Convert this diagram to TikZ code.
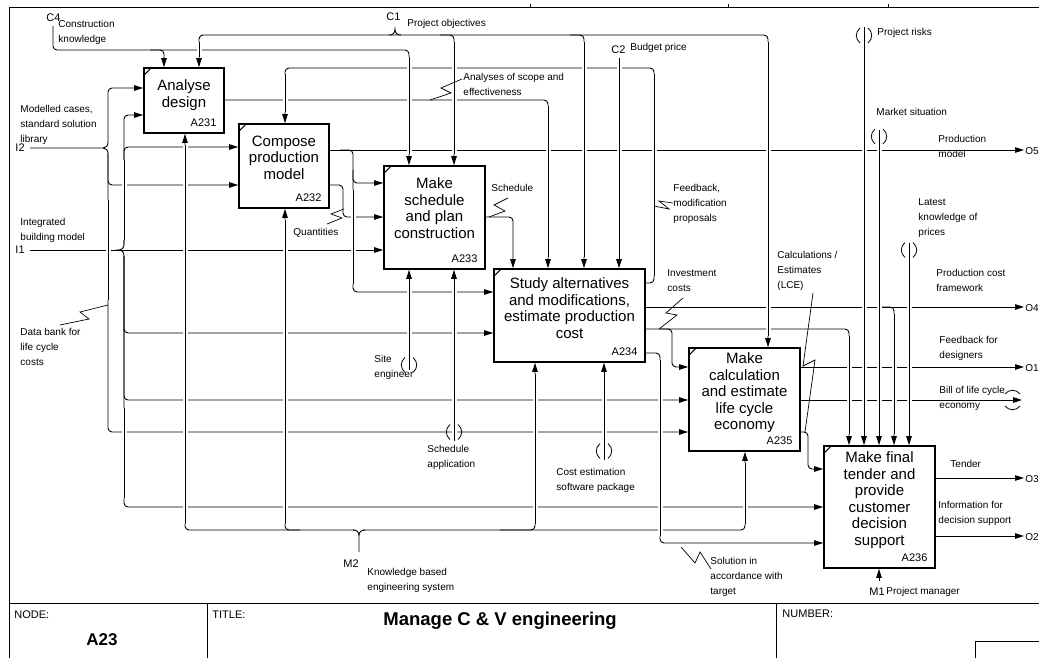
\documentclass[tikz,border=0pt]{standalone}
\usepackage{fontspec}
\setmainfont{Liberation Sans}
\usetikzlibrary{arrows.meta,positioning}
\newcommand\vtunnel[2]{\draw[line width=0.8pt] (#1-4,#2-7.5) .. controls (#1-9,#2-3) and (#1-9,#2+3) .. (#1-4,#2+7.5) (#1+4,#2-7.5) .. controls (#1+9,#2-3) and (#1+9,#2+3) .. (#1+4,#2+7.5);}
\begin{document}
\begin{tikzpicture}[x=1pt, y=-1pt, line width=0.9pt,
  arr/.style={-{Triangle[length=9pt,width=5.5pt]}},
  rc/.style={rounded corners=4pt},
  actbox/.style={draw, line width=1.7pt, inner sep=0pt},
  btext/.style={font=\fontsize{15}{16.5}\selectfont, align=center, inner sep=0pt},
  num/.style={font=\fontsize{11}{13}\selectfont, inner sep=0pt, anchor=base east},
  lbl/.style={font=\fontsize{10}{15}\selectfont, align=left, inner sep=0pt, anchor=north west},
  code/.style={font=\fontsize{11}{13}\selectfont, inner sep=0pt, anchor=base west},
  gapline/.style={preaction={draw, white, line width=5pt}},
  sq/.style={line width=0.7pt}]
\useasboundingbox (0,0) rectangle (1039,658);
\draw[line width=1pt] (9,8) rectangle (1060,680);
\draw[line width=1pt] (9,603) -- (1060,603) (207,603) -- (207,680) (776,603) -- (776,680) (975,641) rectangle (1060,680);
\foreach \x in {530,728,888} \draw (\x,4) -- (\x,8);

\node[actbox, minimum width=80pt, minimum height=65pt] (a231) at (184,100.5) {};
\node[actbox, minimum width=90pt, minimum height=84pt] (a232) at (284,166) {};
\node[actbox, minimum width=101pt, minimum height=103pt] (a233) at (434.5,217.5) {};
\node[actbox, minimum width=151pt, minimum height=93pt] (a234) at (569.5,315.5) {};
\node[actbox, minimum width=111pt, minimum height=103pt] (a235) at (744.5,399.5) {};
\node[actbox, minimum width=111pt, minimum height=122pt] (a236) at (879.5,507) {};
\foreach \b in {a231,a232,a233,a234,a235,a236}
  \draw[line width=1.2pt] ([xshift=0.8pt,yshift=-8pt]\b.north west) -- ([xshift=8pt,yshift=-0.8pt]\b.north west);

\node[btext, below=12.4pt of a231.north] (t231) {Analyse\\design};
\node[btext, below=12.4pt of a232.north] (t232) {Compose\\production\\model};
\node[btext, below=12.4pt of a233.north] (t233) {Make\\schedule\\and plan\\construction};
\node[btext, below=9.4pt of a234.north] (t234) {Study alternatives\\and modifications,\\estimate production\\cost};
\node[btext, below=5.4pt of a235.north] (t235) {Make\\calculation\\and estimate\\life cycle\\economy};
\node[btext, below=6.4pt of a236.north] (t236) {Make final\\tender and\\provide\\customer\\decision\\support};
\node[num] (n231) at ([xshift=-8pt,yshift=7pt]a231.south east) {A231};
\node[num] (n232) at ([xshift=-8pt,yshift=7pt]a232.south east) {A232};
\node[num] (n233) at ([xshift=-8pt,yshift=7pt]a233.south east) {A233};
\node[num] (n234) at ([xshift=-8pt,yshift=7pt]a234.south east) {A234};
\node[num] (n235) at ([xshift=-8pt,yshift=7pt]a235.south east) {A235};
\node[num] (n236) at ([xshift=-8pt,yshift=7pt]a236.south east) {A236};

\draw[arr, rc] (53,26) |- (164,50) -- (a231.north -| 164,0);
\draw[arr, rc] (150,50) -| (a233.north -| 409,0);
\draw[arr, rc] (395,35) -| (a231.north -| 199,0);
\draw[arr, rc] (395,35) -| (a235.north -| 768,0);
\draw[arr, rc] (440,35) -| (a233.north -| 454,0);
\draw[arr, rc] (570,35) -| (a234.north -| 584,0);
\draw (389,35) .. controls (393,35) and (395,33) .. (395,29) .. controls (395,33) and (397,35) .. (401,35);
\draw[arr] (619,58) -- (a234.north -| 619,0);
\draw[arr, rc] (a234.east |- 0,283) -| (654,68) -| (a232.north -| 285,0);
\draw[arr, rc] (a231.east |- 0,100) -| (a234.north -| 548,0);

\draw[arr] (a232.east |- 0,150) -- (1024,150);
\draw[arr, rc] (340,150) -| (353,170) |- (a233.west |- 0,183);
\draw[arr, rc] (353,170) |- (a234.west |- 0,292);
\draw[arr, rc] (a232.east |- 0,185) -| (343,200) |- (a233.west |- 0,217);
\draw[arr, rc] (a233.east |- 0,217) -| (a234.north -| 513,0);

\draw[arr] (a234.east |- 0,307) -- (1024,307);
\draw[arr, rc] (880,307) -| (a236.north -| 894,0);
\draw[arr, rc] (a234.east |- 0,329) -| (a236.north -| 849,0);
\draw[arr, rc] (660,329) -| (672,345) |- (a235.west |- 0,367);
\draw[arr, rc] (a234.east |- 0,353) -| (660,450) |- (a236.west |- 0,543);
\draw[arr] (a235.east |- 0,367) -- (1024,367);
\draw[arr] (a235.east |- 0,400) -- (1022,400);
\draw[arr, rc] (a235.east |- 0,432) -| (808,450) |- (a236.west |- 0,469);
\draw[arr] (a236.east |- 0,478) -- (1024,478);
\draw[arr] (a236.east |- 0,536) -- (1024,536);

\draw (30,148) -- (103,148) .. controls (106,148) and (108,146) .. (108,142) (103,148) .. controls (106,148) and (108,150) .. (108,154);
\draw[arr, rc] (108,142) |- (a231.west |- 0,88);
\draw[arr, rc] (108,154) |- (a232.west |- 0,185);
\draw[arr, rc] (108,154) |- (a235.west |- 0,432);
\draw[arr] (30,250) -- (a233.west |- 0,250);
\draw (124,244) .. controls (124,248) and (122,250) .. (118,250) .. controls (122,250) and (124,252) .. (124,256);
\draw[arr, rc] (124,244) |- (a231.west |- 0,115);
\draw[arr, rc] (124,244) |- (a232.west |- 0,147);
\draw[arr, rc] (124,256) |- (a234.west |- 0,333);
\draw[arr, rc] (124,256) |- (a235.west |- 0,400);
\draw[arr, rc] (124,256) |- (a236.west |- 0,507);

\draw[arr, rc] (355,530) -| (a231.south -| 185,0);
\draw[arr, rc] (300,530) -| (a232.south -| 285,0);
\draw[arr, rc] (500,530) -| (a234.south -| 535,0);
\draw[arr, rc] (363,530) -| (a235.south -| 745,0);
\draw (359,552) -- (359,536) .. controls (359,532) and (357,530) .. (353,530) (359,536) .. controls (359,532) and (361,530) .. (365,530);
\draw[arr] (409,370) -- (a233.south -| 409,0);
\draw[arr] (454,441) -- (a233.south -| 454,0);
\draw[arr] (604,460) -- (a234.south -| 604,0);
\draw[arr] (879,581) -- (a236.south -| 879,0);
\draw[arr] (864,27) -- (a236.north -| 864,0);
\draw[arr] (879,130) -- (a236.north -| 879,0);
\draw[arr] (909,243) -- (a236.north -| 909,0);

\foreach \x/\ya/\yb in {108/200/300, 124/160/240, 124/408/498, 185/145/524, 199/42/57, 285/74/112, 285/220/524, 353/190/284, 409/57/154, 409/281/358, 454/42/154, 454/281/440, 548/106/257, 584/42/257, 619/62/257, 654/74/276, 535/374/524, 604/374/443, 660/360/536, 745/463/524, 768/42/336, 849/336/434, 864/44/434, 879/145/434, 894/314/434, 909/259/434}
  \draw[gapline] (\x,\ya) -- (\x,\yb);

\vtunnel{864}{35.5}
\vtunnel{879}{136.5}
\vtunnel{909}{250}
\vtunnel{409}{365}
\vtunnel{454}{432}
\vtunnel{604}{451}
\draw[line width=0.8pt] (1005,394) .. controls (1009,389) and (1016,389) .. (1020,394) (1005,406) .. controls (1009,411) and (1016,411) .. (1020,406);

\draw[sq] (430,100) -- (451,93) -- (441,88) -- (462,79);
\draw[sq] (489,217) -- (505,211) -- (494,205) -- (508,198);
\draw[sq] (327,224) -- (342,218) -- (331,214) -- (344,209);
\draw[sq] (654,206) -- (669,209) -- (659,201) -- (673,203);
\draw[sq] (659,329) -- (677,315) -- (666,313) -- (683,298);
\draw[sq] (60,325) -- (89,319) -- (80,312) -- (108,305);
\draw[sq] (813,293) -- (803,366) -- (815,360) -- (805,432);
\draw[sq] (681,547) -- (695,563) -- (700,552) -- (711,569);

\node[code] (c4) at (46,22) {C4};
\node[code] (c1) at (386,21) {C1};
\node[code] (c2) at (611,54) {C2};
\node[code] (i2) at (15,152) {I2};
\node[code] (i1) at (15,253) {I1};
\node[code] (m2) at (343,567) {M2};
\node[code] (m1) at (869,595) {M1};
\node[code, font=\fontsize{10}{12}\selectfont] (o5) at (1025,154) {O5};
\node[code, font=\fontsize{10}{12}\selectfont] (o4) at (1025,311) {O4};
\node[code, font=\fontsize{10}{12}\selectfont] (o1) at (1025,371) {O1};
\node[code, font=\fontsize{10}{12}\selectfont] (o3) at (1025,482) {O3};
\node[code, font=\fontsize{10}{12}\selectfont] (o2) at (1025,540) {O2};

\node[lbl] (lconstr) at (58,20.2) {Construction\\knowledge};
\node[lbl] (lobj) at (407,19.2) {Project objectives};
\node[lbl] (lbudget) at (630,43.2) {Budget price};
\node[lbl] (lscope) at (463,73.2) {Analyses of scope and\\effectiveness};
\node[lbl] (lsched) at (491,184.2) {Schedule};
\node[lbl] (lrisks) at (877,28.2) {Project risks};
\node[lbl] (lmarket) at (876,108.2) {Market situation};
\node[lbl] (lprodmod) at (938,135.2) {Production\\model};
\node[lbl] (lfeedmod) at (673,184.2) {Feedback,\\modification\\proposals};
\node[lbl] (lprices) at (918,198.2) {Latest\\knowledge of\\prices};
\node[lbl] (lcases) at (20,105.2) {Modelled cases,\\standard solution\\library};
\node[lbl] (lbim) at (20,218.2) {Integrated\\building model};
\node[lbl] (lquant) at (293,228.2) {Quantities};
\node[lbl] (ldata) at (20,328.2) {Data bank for\\life cycle\\costs};
\node[lbl] (lsite) at (374,355.2) {Site\\engineer};
\node[lbl] (lschedapp) at (427,445.2) {Schedule\\application};
\node[lbl] (lcostsw) at (556,468.2) {Cost estimation\\software package};
\node[lbl] (lcalc) at (777,251.2) {Calculations /\\Estimates\\(LCE)};
\node[lbl] (linvest) at (667,269.2) {Investment\\costs};
\node[lbl] (lframe) at (936,269.2) {Production cost\\framework};
\node[lbl] (lfeeddes) at (939,336.2) {Feedback for\\designers};
\node[lbl] (lbill) at (939,386.2) {Bill of life cycle\\economy};
\node[lbl] (ltender) at (950,460.2) {Tender};
\node[lbl] (linfo) at (938,501.2) {Information for\\decision support};
\node[lbl] (lmanager) at (886,587.2) {Project manager};
\node[lbl] (lsolution) at (710,557.2) {Solution in\\accordance with\\target};
\node[lbl] (lkbe) at (367,568.2) {Knowledge based\\engineering system};

\node[code] (lnode) at (14,618) {NODE:};
\node[code, font=\bfseries\fontsize{17}{19}\selectfont] (lnum) at (86,645) {A23};
\node[code] (ltitlehd) at (212,618) {TITLE:};
\node[code, font=\bfseries\fontsize{18.5}{20}\selectfont] (ltitle) at (383,625) {Manage C \& V engineering};
\node[code] (lnumber) at (782,617) {NUMBER:};
\end{tikzpicture}
\end{document}
